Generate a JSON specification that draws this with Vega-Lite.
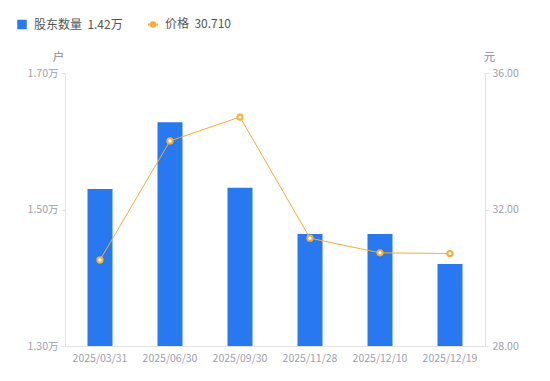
{
  "$schema": "https://vega.github.io/schema/vega-lite/v6.json",
  "width": 420,
  "height": 273,
  "autosize": {"type": "none"},
  "padding": {"left": 65, "top": 73, "right": 65, "bottom": 35},
  "background": "white",
  "config": {
    "view": {"stroke": null},
    "font": "Noto Sans CJK SC",
    "axis": {
      "labelColor": "#a0a0ae",
      "labelFontSize": 10.5,
      "labelFont": "Noto Sans CJK SC",
      "domainColor": "#e3e3e3",
      "tickColor": "#e3e3e3",
      "grid": false,
      "titleColor": "#8a8a99",
      "titleFontSize": 11.5,
      "titleFontWeight": "normal"
    }
  },
  "data": {
    "values": [
      {"date": "2025/03/31", "holders": 1.530, "price": 30.52},
      {"date": "2025/06/30", "holders": 1.628, "price": 34.01},
      {"date": "2025/09/30", "holders": 1.532, "price": 34.71},
      {"date": "2025/11/28", "holders": 1.464, "price": 31.16},
      {"date": "2025/12/10", "holders": 1.464, "price": 30.73},
      {"date": "2025/12/19", "holders": 1.420, "price": 30.71}
    ]
  },
  "encoding": {
    "x": {
      "field": "date",
      "type": "ordinal",
      "sort": null,
      "scale": {"paddingInner": 0, "paddingOuter": 0},
      "axis": {"title": null, "labelAngle": 0, "ticks": false, "labelPadding": 7, "domainColor": "#e3e3e3"}
    }
  },
  "layer": [
    {
      "mark": {"type": "bar", "size": 25, "clip": true},
      "encoding": {
        "y": {
          "field": "holders",
          "type": "quantitative",
          "scale": {"domain": [1.3, 1.7], "zero": false, "nice": false},
          "axis": {
            "title": "户",
            "titleAngle": 0,
            "titleX": -7,
            "titleY": -16,
            "titleAlign": "center",
            "titleBaseline": "middle",
            "values": [1.3, 1.5, 1.7],
            "labelExpr": "format(datum.value, '.2f') + '万'",
            "tickSize": 4,
            "labelPadding": 3
          }
        },
        "color": {
          "datum": "股东数量",
          "type": "nominal",
          "scale": {"domain": ["股东数量", "价格"], "range": ["#2878f0", "#f6ae33"]},
          "legend": {
            "title": null,
            "orient": "none",
            "direction": "horizontal",
            "legendX": -49,
            "legendY": -55,
            "padding": 0,
            "columnPadding": 21,
            "labelFontSize": 12,
            "labelColor": "#555555",
            "labelFont": "Noto Sans CJK SC",
            "symbolSize": 90,
            "labelOffset": 6,
            "labelExpr": "datum.label === '价格' ? '价格\u00a0\u00a030.710' : '股东数量\u00a0\u00a01.42万'",
            "encode": {
              "symbols": {
                "update": {
                  "shape": {"signal": "datum.label === '价格' ? 'M-1,0H-0.45M0.45,0H1M0.45,0A0.45,0.45 0 1,1 -0.45,0A0.45,0.45 0 1,1 0.45,0' : 'square'"},
                  "fill": {"signal": "datum.label === '价格' ? 'white' : '#2878f0'"},
                  "stroke": {"signal": "datum.label === '价格' ? '#f6ae33' : '#2878f0'"},
                  "strokeWidth": {"signal": "datum.label === '价格' ? 2 : 0"},
                  "size": {"signal": "datum.label === '价格' ? 100 : 90"}
                }
              }
            }
          }
        }
      }
    },
    {
      "mark": {
        "type": "line",
        "strokeWidth": 1,
        "point": {"filled": false, "fill": "white", "stroke": "#f6ae33", "size": 28, "strokeWidth": 2}
      },
      "encoding": {
        "y": {
          "field": "price",
          "type": "quantitative",
          "scale": {"domain": [28, 36], "zero": false, "nice": false},
          "axis": {
            "orient": "right",
            "title": "元",
            "titleAngle": 0,
            "titleX": 4,
            "titleY": -16,
            "titleAlign": "center",
            "titleBaseline": "middle",
            "values": [28, 32, 36],
            "format": ".2f",
            "tickSize": 4,
            "labelPadding": 3
          }
        },
        "color": {"datum": "价格", "type": "nominal"}
      }
    }
  ],
  "resolve": {"scale": {"y": "independent"}}
}
